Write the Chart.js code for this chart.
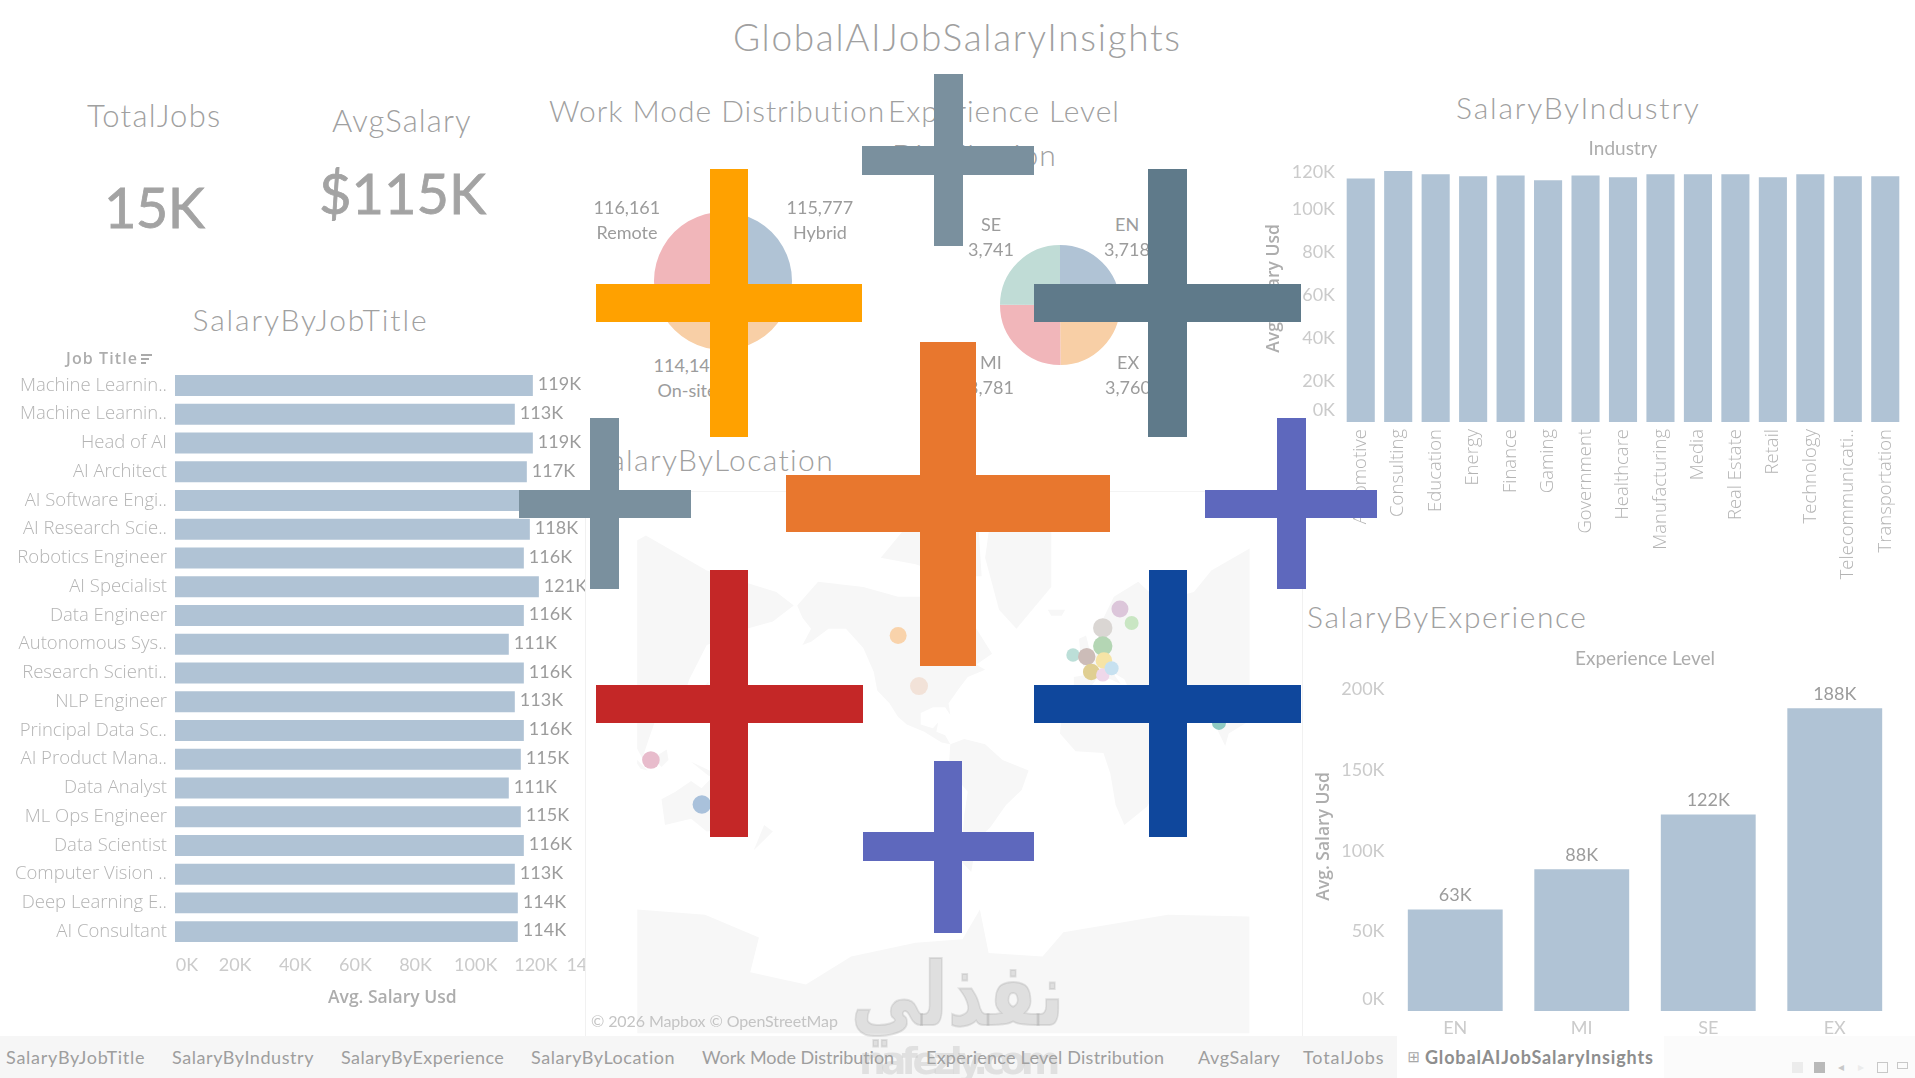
<!DOCTYPE html>
<html><head><meta charset="utf-8">
<script src="https://cdn.jsdelivr.net/npm/chart.js@4"></script>
<style>
html,body{margin:0;padding:0;background:#fff;width:1915px;height:1078px;overflow:hidden;font-family:Lato,sans-serif}
.abs{position:absolute}
canvas{display:block}
</style></head><body>
<script>
// ---------- DATA ----------
const jobTitles=['Machine Learnin..','Machine Learnin..','Head of AI','AI Architect','AI Software Engi..','AI Research Scie..','Robotics Engineer','AI Specialist','Data Engineer','Autonomous Sys..','Research Scienti..','NLP Engineer','Principal Data Sc..','AI Product Mana..','Data Analyst','ML Ops Engineer','Data Scientist','Computer Vision ..','Deep Learning E..','AI Consultant'];
const jobSalaryK=[119,113,119,117,118,118,116,121,116,111,116,113,116,115,111,115,116,113,114,114];
const jobTicksK=[0,20,40,60,80,100,120,140];
const industries=['Automotive','Consulting','Education','Energy','Finance','Gaming','Government','Healthcare','Manufacturing','Media','Real Estate','Retail','Technology','Telecommunicati..','Transportation'];
const industrySalaryK=[113.3,116.7,115.2,114.3,114.7,112.4,114.7,113.8,115.2,115.2,115.2,113.8,115.2,114.3,114.3];
const expLevels=['EN','MI','SE','EX'];
const expSalaryK=[63,88,122,188];
const workModes=['Hybrid','On-site','Remote'];
const workModeSalary=[115777,114147,116161];
const expPieLevels=['EN','EX','MI','SE'];
const expPieCounts=[3718,3760,3781,3741];
const locationNames=['Canada','United States','Sweden','Finland','Norway','Denmark','Ireland','United Kingdom','Germany','France','Switzerland','Austria','India','Singapore','Australia'];
const locationLon=[-110,-98,17.5,24.2,7.6,7.6,-9.5,-1.6,8.3,1.0,7.6,12.7,74.4,-252.1,-222.8];
const locationMapY=[71.5,42.5,86.8,78.7,75.9,65.5,60.3,59.4,57.1,50.6,48.9,52.7,21.3,0,-25.6];
const locationSize=[8.5,9,8.5,7,9.7,9.7,6.7,8.7,8.3,8.3,6.7,7,7,8.8,9.3];
const tabNames=['SalaryByJobTitle','SalaryByIndustry','SalaryByExperience','SalaryByLocation','Work Mode Distribution','Experience Level Distribution','AvgSalary','TotalJobs'];

// ---------- STYLE ----------
const BAR='#b0c3d5', TICK='#cbcbcb', CAT='#b4b4b4', VAL='#9c9c9c', TITLE='#a0a0a0', AXIS='#adadad';
const locationColors=['#f9d3ab','#f2e2d8','#dcc6da','#c9e6c3','#dad6d3','#b4d6b4','#bcdfd8','#ccbcb8','#f6e4a6','#e0cf92','#efd8ea','#c7e1f0','#8fcac2','#e8bccc','#a9c1db'];
const pieBlue='#b0c3d5',piePeach='#f8cfa6',piePink='#f1b6ba',pieTeal='#c0dcd6';
Chart.defaults.font.family='Lato';
Chart.defaults.animation=false;
Chart.defaults.responsive=false;
Chart.defaults.maintainAspectRatio=false;
Chart.defaults.plugins.legend.display=false;
Chart.defaults.plugins.tooltip.enabled=false;
Chart.defaults.layout.autoPadding=false;

// ---------- plugin: nudged ticks + value labels ----------
Chart.register({id:'extras',
  beforeDraw(chart,_a,o){
    for(const [id,map] of Object.entries(o.nudge||{})){
      const s=chart.scales[id]; if(!s) continue;
      for(const it of s.getLabelItems(chart.chartArea)){
        const n=map[it.label]; if(!n||it._n) continue;
        it._n=1; it.options.translation=[it.options.translation[0]+n[0],it.options.translation[1]+n[1]];
      }
    }
  },
  afterDatasetsDraw(chart,_a,o){
    if(!o.valueFont) return;
    const c=chart.ctx,m=chart.getDatasetMeta(0),v=chart.data.datasets[0].data;
    c.save();c.font=o.valueFont;c.fillStyle=VAL;c.textBaseline='middle';
    c.textAlign=o.horizontal?'left':'center';
    m.data.forEach((el,i)=>{
      const t=Math.round(v[i])+'K';
      if(o.horizontal) c.fillText(t,el.x+5,el.y-1); else c.fillText(t,el.x,el.y-14);
    });
    c.restore();
  }
});

// ---------- helpers ----------
function box(l,t,w,h,css){const d=document.createElement('div');d.className='abs';
  d.style.cssText+=`left:${l}px;top:${t}px;width:${w}px;height:${h}px;`+(css||'');document.body.appendChild(d);return d;}
function label(str,o){
  const d=document.createElement('div');d.className='abs';d.textContent=str;
  const size=o.size||18;
  d.style.cssText+=`white-space:nowrap;line-height:1;font-family:${o.font||'Lato'};font-size:${size}px;font-weight:${o.weight||400};color:${o.color||TITLE};z-index:${o.z||3};`+(o.css||'');
  if(o.dir) d.dir=o.dir;
  document.body.appendChild(d);
  let w=d.offsetWidth;
  if(o.width&&!o.scale){d.style.letterSpacing=((o.width-w)/str.length)+'px';w=o.width;}
  if(o.width&&o.scale){d.style.transform=`scaleX(${o.width/w})`;}
  const a=o.anchor||'c';
  d.style.left=(a==='l'?o.x:a==='r'?o.x-w:o.x-w/2)+'px';
  d.style.top=(o.y-size/2)+'px';
  return d;
}
function makeChart(area,m,cfg,clipW){
  const H=area.h+m.t+m.b,W=area.w+m.l+m.r;
  const holder=box(area.l-m.l,area.t-m.t,clipW||W,H,'overflow:hidden;z-index:2;');
  const cv=document.createElement('canvas');cv.width=W;cv.height=H;
  holder.appendChild(cv);
  const ch=new Chart(cv,cfg);
  // keep the plot rectangle exactly on the wanted box if layout pushed it
  const A=ch.chartArea,top=A.top,below=H-A.bottom;
  if(Math.abs(top-m.t)>.25||Math.abs(below-m.b)>.25){
    const nh=Math.round(top+area.h+below);
    holder.style.top=(area.t-top)+'px';
    holder.style.height=nh+'px';
    ch.resize(W,nh);
  }
  return ch;
}
const fixW=w=>s=>{s.width=w};const fixH=h=>s=>{s.height=h};
const f18={family:'Lato',size:18},axisFont={family:'Open Sans',size:17.5,weight:'600'};
const catFont={family:'Open Sans',size:18.5,weight:'300'};
const hdrFont={family:'Lato',size:19,weight:'400'};

// ---------- frames / tab bar (behind charts) ----------
box(585,491,1,545,'background:#f1f1f1');
box(1302,491,1,545,'background:#f1f1f1');
box(585,491,717,1,'background:#f4f4f4');
box(0,1036,1397,42,'background:#f6f6f6');
box(1664,1036,251,42,'background:#fbfbfb');

// ---------- job title bars ----------
makeChart({l:175,t:371,w:421,h:575},{l:175,r:30,t:10,b:63},{type:'bar',
  data:{labels:jobTitles,datasets:[{data:jobSalaryK,backgroundColor:BAR,barPercentage:.73,categoryPercentage:1}]},
  options:{indexAxis:'y',layout:{padding:{top:10,right:30}},
    scales:{
      y:{afterFit:fixW(175),grid:{display:false,drawTicks:false},border:{display:false},ticks:{color:CAT,font:catFont,padding:8,autoSkip:false}},
      x:{min:0,max:140,afterFit:fixH(63),afterBuildTicks(s){s.ticks=jobTicksK.map(v=>({value:v}))},grid:{display:false,drawTicks:false},border:{display:false},
         ticks:{color:TICK,font:f18,padding:8,maxRotation:0,callback:v=>v+'K'},
         title:{display:true,text:'   Avg. Salary Usd',color:AXIS,font:axisFont,padding:0}}
    },
    plugins:{extras:{horizontal:true,valueFont:'18px Lato',nudge:{x:{'0K':[12,0],'140K':[-8,0]}}}}
  }},585);

// ---------- industry bars ----------
makeChart({l:1342,t:164,w:562,h:258},{l:78,r:11,t:29,b:165},{type:'bar',
  data:{labels:industries,datasets:[{data:industrySalaryK,backgroundColor:BAR,barPercentage:.75,categoryPercentage:1}]},
  options:{layout:{padding:{right:11}},
    scales:{
      x:{afterFit:fixH(165),grid:{display:false,drawTicks:false},border:{display:false},ticks:{color:CAT,font:catFont,padding:7,minRotation:90,maxRotation:90,autoSkip:false}},
      y:{min:0,max:120,afterFit:fixW(78),grid:{display:false,drawTicks:false},border:{display:false},
         ticks:{color:TICK,font:f18,padding:7,stepSize:20,callback:v=>v+'K'},
         title:{display:true,text:'  Avg. Salary Usd',color:AXIS,font:axisFont,padding:0}}
    },
    plugins:{title:{display:true,text:'Industry',color:AXIS,fullSize:false,font:hdrFont,padding:{top:2.6,bottom:3.6}},
      extras:{nudge:{y:{'0K':[0,-12],'20K':[0,2],'40K':[0,2],'60K':[0,2],'80K':[0,2],'100K':[0,2],'120K':[0,8]}}}}
  }});

// ---------- experience bars ----------
makeChart({l:1392,t:689,w:506,h:322},{l:78,r:17,t:44,b:34},{type:'bar',
  data:{labels:expLevels,datasets:[{data:expSalaryK,backgroundColor:BAR,barPercentage:.75,categoryPercentage:1}]},
  options:{layout:{padding:{right:17}},
    scales:{
      x:{afterFit:fixH(34),grid:{display:false,drawTicks:false},border:{display:false},ticks:{color:TICK,font:f18,padding:6}},
      y:{min:0,max:200,afterFit:fixW(78),grid:{display:false,drawTicks:false},border:{display:false},
         ticks:{color:TICK,font:f18,padding:7.5,stepSize:50,callback:v=>v+'K'},
         title:{display:true,text:'      Avg. Salary Usd',color:AXIS,font:axisFont,padding:0}}
    },
    plugins:{title:{display:true,text:'Experience Level',color:AXIS,fullSize:false,font:hdrFont,padding:{top:2.6,bottom:18.6}},
      extras:{valueFont:'18px Lato',nudge:{y:{'0K':[0,-12],'50K':[0,1],'100K':[0,1],'150K':[0,1]}}}}
  }});

// ---------- pies ----------
makeChart({l:654,t:212,w:138,h:138},{l:0,r:0,t:0,b:0},{type:'pie',
  data:{labels:workModes,datasets:[{data:workModeSalary,backgroundColor:[pieBlue,piePeach,piePink],borderWidth:0}]},
  options:{radius:'100%'}});
makeChart({l:1000,t:245,w:120,h:120},{l:0,r:0,t:0,b:0},{type:'pie',
  data:{labels:expPieLevels,datasets:[{data:expPieCounts,backgroundColor:[pieBlue,piePeach,piePink,pieTeal],borderWidth:0}]},
  options:{radius:'100%'}});

// ---------- location map ----------
const landShapes=[
 [[-168,66],[-156,71],[-130,70],[-110,68],[-95,68],[-90,72],[-80,68],[-85,62],[-93,58],[-82,52],[-78,55],[-77,62],[-65,60],[-56,52],[-65,48],[-60,46],[-70,43],[-75,38],[-81,31],[-80,25],[-83,29],[-90,29],[-97,26],[-97,20],[-90,18],[-87,21],[-88,16],[-83,14],[-80,9],[-85,10],[-95,16],[-105,20],[-110,24],[-115,31],[-122,37],[-124,45],[-130,54],[-140,60],[-150,60],[-160,56],[-165,55],[-160,60],[-165,63]],
 [[-120,75],[-90,82],[-65,82],[-62,72],[-80,72],[-100,74]],
 [[-55,82],[-22,82],[-22,70],[-42,60],[-52,65],[-60,75]],
 [[-80,9],[-72,12],[-60,9],[-50,0],[-35,-6],[-39,-17],[-48,-25],[-57,-36],[-65,-42],[-68,-54],[-74,-50],[-72,-30],[-70,-18],[-81,-5]],
 [[-17,15],[-16,25],[-6,35],[10,37],[20,32],[32,31],[36,22],[43,12],[51,12],[40,-3],[40,-15],[33,-26],[20,-35],[15,-25],[12,-8],[8,4],[-8,5]],
 [[-9,37],[-9,43],[-1,44],[-4,48],[8,54],[8,58],[5,60],[14,68],[28,71],[40,67],[60,69],[70,73],[105,78],[140,73],[180,69],[190,66],[178,62],[163,60],[160,52],[155,58],[140,55],[130,42],[127,35],[120,38],[122,30],[110,21],[106,10],[103,1],[98,10],[92,22],[80,15],[78,8],[72,20],[60,25],[52,27],[58,23],[52,16],[43,13],[35,30],[36,36],[27,37],[23,37],[20,42],[13,45],[18,40],[12,42],[5,43],[-1,37],[-5,36]],
 [[-5,50],[1,51],[-2,58],[-6,57]],
 [[-24,65],[-14,65],[-16,63.5],[-22,63.5]],
 [[114,-22],[122,-18],[131,-12],[137,-16],[142,-11],[153,-27],[150,-37],[140,-38],[131,-32],[116,-35]],
 [[95,5],[106,-6],[102,-5]],[[109,1],[117,6],[118,0],[114,-4]],[[131,-1],[150,-10],[141,-9]],
 [[130,32],[141,41],[141,36]],[[167,-46],[178,-38],[173,-35]]
];
const antarcticaMapY=[[-260,-86],[-221,-89],[-190,-102],[-195,-122],[-163,-129],[-137,-113],[-100,-105],[-73,-103],[-63,-86],[-58,-111],[-27,-113],[-15,-99],[45,-89],[92,-90],[92,-157],[-260,-157]];
const mercDeg=lat=>180/Math.PI*Math.log(Math.tan(Math.PI/4+lat*Math.PI/360));
const landPlugin={id:'land',beforeDatasetsDraw(chart){
  const c=chart.ctx,X=chart.scales.x,Y=chart.scales.y;
  c.save();c.beginPath();
  const L=X.getPixelForValue(-260),R=X.getPixelForValue(92);
  c.rect(L,0,R-L,chart.height);c.clip();c.fillStyle='#f7f7f7';
  for(const off of [0,-360]) for(const sh of landShapes){
    c.beginPath();sh.forEach(([lo,la],i)=>{const x=X.getPixelForValue(lo+off),y=Y.getPixelForValue(mercDeg(la));i?c.lineTo(x,y):c.moveTo(x,y)});c.closePath();c.fill();
  }
  c.beginPath();antarcticaMapY.forEach(([lo,my],i)=>{const x=X.getPixelForValue(lo),y=Y.getPixelForValue(my);i?c.lineTo(x,y):c.moveTo(x,y)});c.closePath();c.fill();
  c.restore();
}};
makeChart({l:590,t:491,w:710,h:543},{l:0,r:0,t:0,b:0},{type:'bubble',
  data:{labels:locationNames,datasets:[{data:locationLon.map((x,i)=>({x,y:locationMapY[i],r:locationSize[i]})),backgroundColor:locationColors,borderWidth:0,clip:false}]},
  options:{scales:{x:{display:false,min:-287.1,max:120.97},y:{display:false,min:-157.5,max:154.6}}},
  plugins:[landPlugin]});

// ---------- titles & texts ----------
label('GlobalAIJobSalaryInsights',{x:957.5,y:36.5,size:37,width:449,weight:300});
label('TotalJobs',{x:154,y:115.5,size:31,width:134,weight:300});
label('AvgSalary',{x:402,y:120.5,size:31,width:140,weight:300});
const kpiCss='-webkit-text-stroke:.8px #a3a3a3;';
label('15K',{x:154,y:207,size:56,width:100,color:'#a3a3a3',css:kpiCss});
label('$115K',{x:402.5,y:192.5,size:56,width:167,color:'#a3a3a3',css:kpiCss});
label('SalaryByJobTitle',{x:310.5,y:318.5,size:30,width:236,weight:300});
label('SalaryByIndustry',{x:1578.5,y:106.5,size:30,width:245,weight:300});
label('SalaryByExperience',{x:1307,y:616,size:30,width:281,anchor:'l',weight:300});
label('SalaryByLocation',{x:593,y:459,size:30,width:242,anchor:'l',weight:300});
label('Work Mode Distribution',{x:549,y:110,size:30,width:337,anchor:'l',weight:300});
label('Experience Level',{x:888,y:110,size:30,width:232,anchor:'l',weight:300});
label('Distribution',{x:892,y:154,size:30,width:165,anchor:'l',weight:300});
label('Job Title',{x:66,y:358,size:16,width:72,anchor:'l',weight:600,font:'Open Sans',color:AXIS});
box(141,354,11,1.5,'background:#aaa;z-index:3');box(141,358,8,1.5,'background:#aaa;z-index:3');box(141,362,5,1.5,'background:#aaa;z-index:3');

// pie labels
const fmt=n=>n.toLocaleString('en-US');
const wmSpots={'Remote':[627,206.5],'Hybrid':[820,206.5],'On-site':[687,365]};
workModes.forEach((w,i)=>{const [x,y]=wmSpots[w];label(fmt(workModeSalary[i]),{x,y,color:VAL});label(w,{x,y:y+25,color:VAL});});
const exSpots={'SE':[991,224],'EN':[1127,224],'MI':[991,362],'EX':[1128,362]};
expPieLevels.forEach((w,i)=>{const [x,y]=exSpots[w];label(w,{x,y,color:VAL});label(fmt(expPieCounts[i]),{x,y:y+25,color:VAL});});

label('© 2026 Mapbox © OpenStreetMap',{x:591,y:1021,size:16,width:247,anchor:'l',color:'#c4c4c4'});

// tabs
const tabX=[[6,139],[172,142],[341,163],[531,144],[702,192],[926,239],[1198,82],[1303,81]];
tabNames.forEach((t,i)=>label(t,{x:tabX[i][0],y:1057,size:18,width:tabX[i][1],anchor:'l',color:'#9e9e9e'}));
box(1397,1036,267,42,'background:#fff');
label('⊞',{x:1414,y:1057,size:15,color:'#a8a8a8',font:'DejaVu Sans'});
label('GlobalAIJobSalaryInsights',{x:1425,y:1057,size:18,width:229,anchor:'l',weight:700,color:'#8e8e8e'});
// window controls
box(1792,1062,11,11,'background:#ececec;z-index:3');box(1814,1062,11,11,'background:#b9b9b9;z-index:3');
label('◂',{x:1841,y:1067,size:12,color:'#c8c8c8',font:'DejaVu Sans'});label('▸',{x:1861,y:1067,size:12,color:'#ececec',font:'DejaVu Sans'});
box(1877,1062,11,11,'border:1px solid #c8c8c8;box-sizing:border-box;z-index:3');box(1897,1062,11,7,'border:1px solid #c8c8c8;box-sizing:border-box;z-index:3');

// ---------- loading logo overlay ----------
const crossShapes=[
 ['#ffa100',[710,169,38,268],[596,284,266,38]],
 ['#7a909e',[934,74,29,172],[862,146,172,29]],
 ['#5f7a8a',[1148,169,39,268],[1034,284,267,38]],
 ['#e8772e',[920,342,56,324],[786,475,324,57]],
 ['#7a909e',[590,418,29,171],[519,490,172,28]],
 ['#5e68bd',[1277,418,29,171],[1205,490,172,28]],
 ['#c42727',[710,570,38,267],[596,685,267,38]],
 ['#0f479c',[1149,570,38,267],[1034,685,267,38]],
 ['#5e68bd',[934,761,28,172],[863,832,171,29]]
];
crossShapes.forEach(([c,v,h])=>{box(v[0],v[1],v[2],v[3],`background:${c};z-index:5`);box(h[0],h[1],h[2],h[3],`background:${c};z-index:5`);});

// ---------- watermark ----------
label('نفذلي',{x:957,y:995,size:88,width:213,scale:true,dir:'rtl',weight:700,font:'DejaVu Sans',color:'rgba(170,170,170,.3)',z:6,css:'-webkit-text-stroke:2px rgba(170,170,170,.3);'});
label('nafezly.com',{x:957,y:1061,size:38,width:196,weight:700,font:'DejaVu Sans',color:'rgba(170,170,170,.28)',z:6});
</script>
</body></html>
